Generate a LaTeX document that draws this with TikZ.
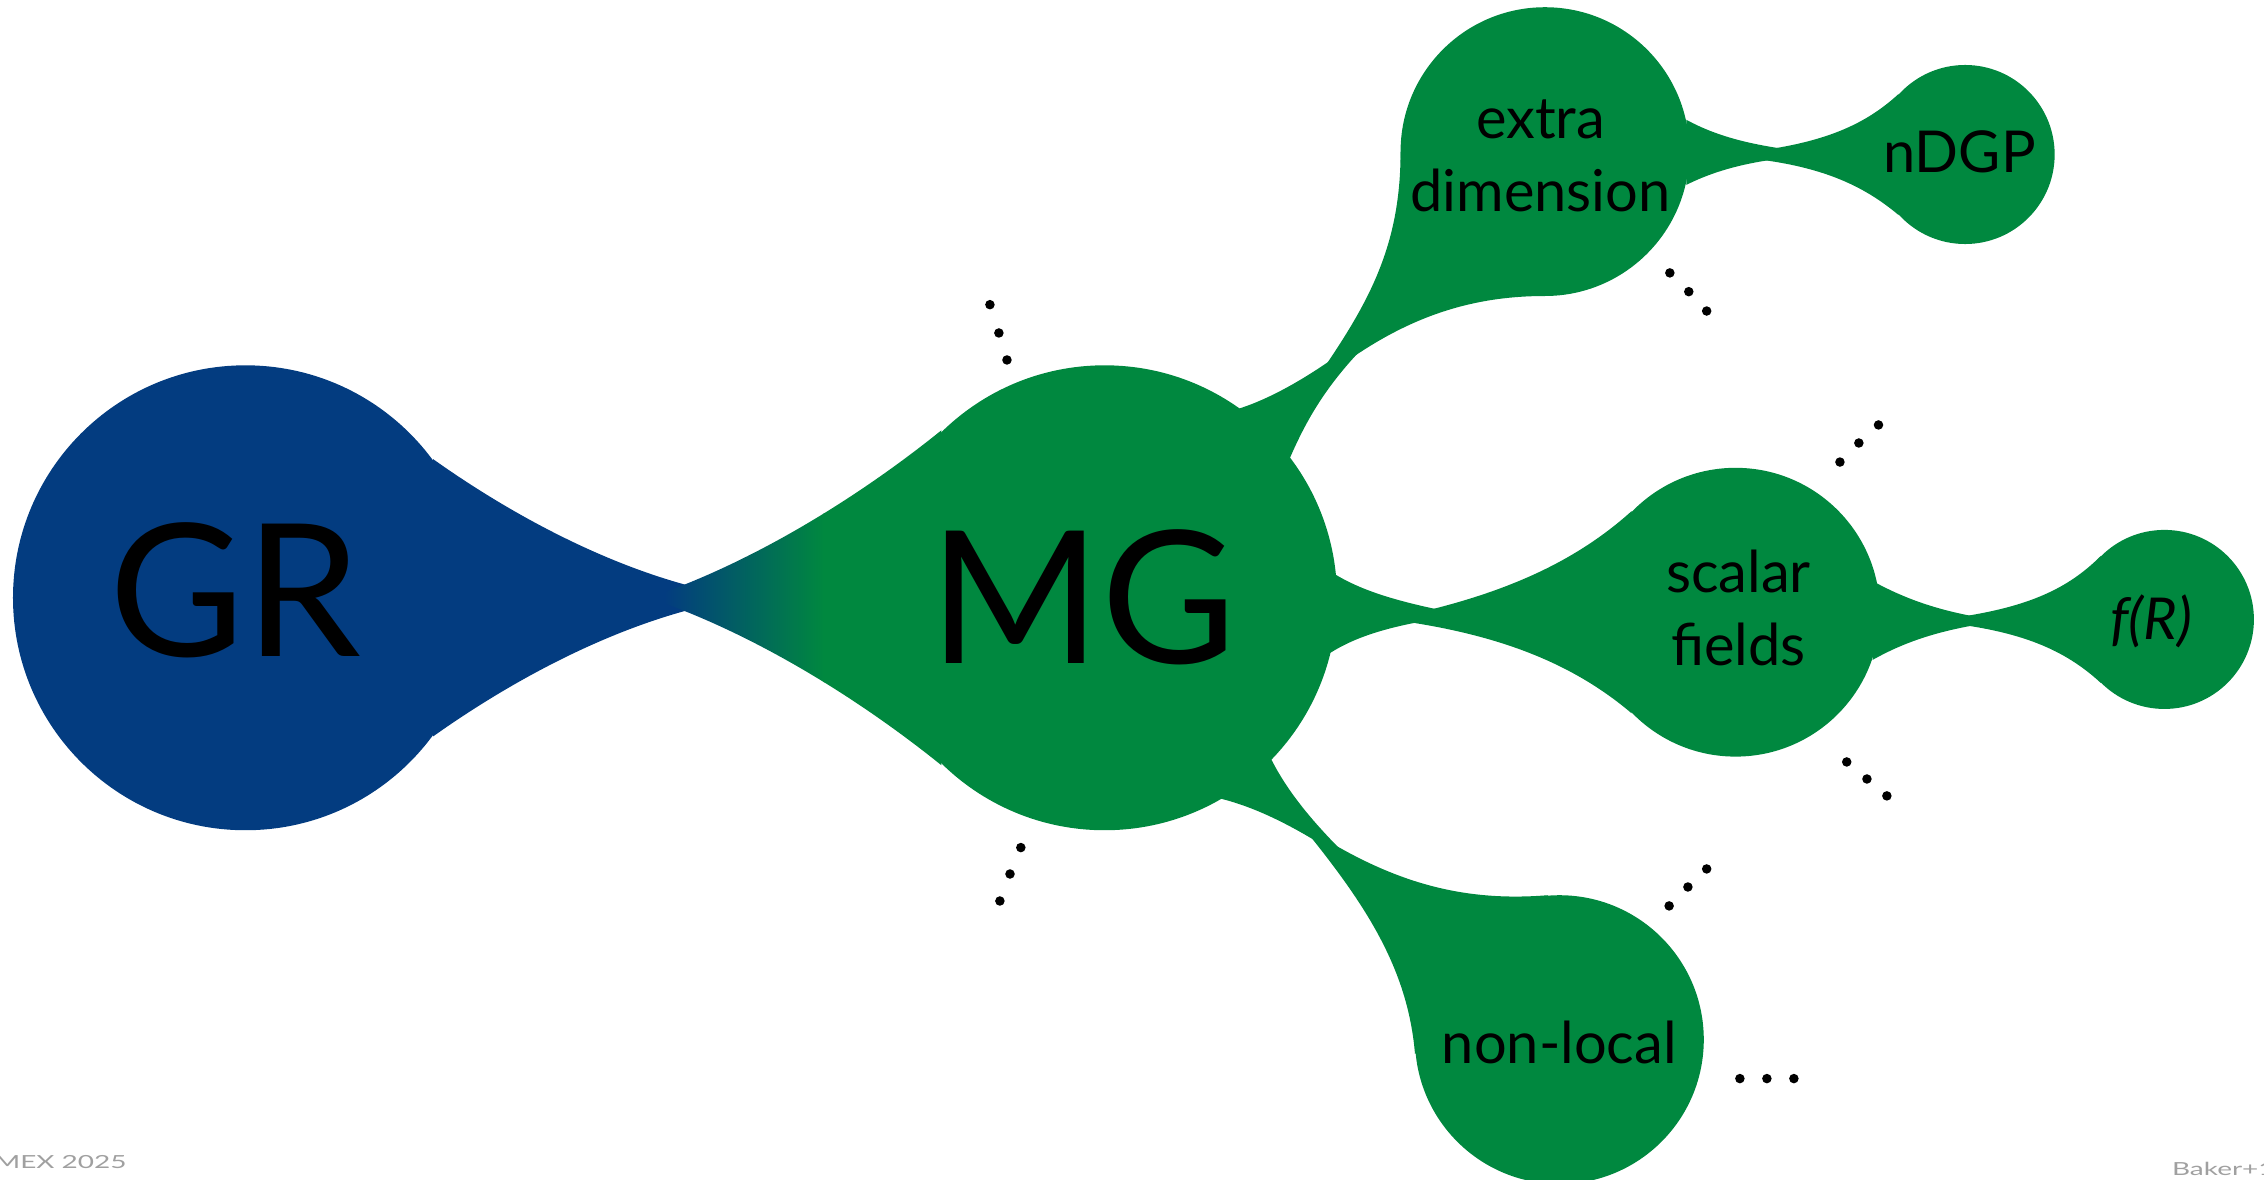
\documentclass[tikz,border=0pt]{standalone}
\usepackage{fontspec}
\setmainfont{Lato}
\definecolor{grblue}{RGB}{3,60,128}
\definecolor{mggreen}{RGB}{0,136,63}
\definecolor{footgray}{RGB}{160,160,160}
\tikzset{
  blobg/.style={fill=mggreen},
  blobb/.style={fill=grblue},
  bigtxt/.style={font=\fontsize{128}{128}\selectfont, inner sep=0pt},
  smalltxt/.style={font=\fontsize{40}{51}\selectfont, align=center, inner sep=0pt},
  dotty/.style={fill=black},
  foot/.style={font=\fontsize{12.5}{12.5}\selectfont, text=footgray, inner sep=0pt, xscale=1.55}
}
\begin{document}
\begin{tikzpicture}[x=1pt,y=-1pt]
\useasboundingbox (0,0) rectangle (1568,817);
\clip (0,0) rectangle (1568,817);

% GR blob
\fill[blobb] (170,414) circle[radius=161];
\fill[blobb] (300,318) .. controls (345,350) and (420,395) .. (500,411) -- (500,417) .. controls (420,433) and (345,478) .. (300,510) -- cycle;

% MG blob
\fill[blobg] (765,414) circle[radius=161];
\begin{scope}
  \clip (652,298) .. controls (600,340) and (530,385) .. (458,411) -- (458,417) .. controls (530,443) and (600,488) .. (652,530) -- cycle;
  \fill[blobb] (440,250) rectangle (461,580);
  \shade[left color=grblue,right color=mggreen] (460,250) rectangle (571,580);
  \fill[blobg] (570,250) rectangle (700,580);
\end{scope}
% MG tails
\fill[blobg] (858,283) .. controls (880,276) and (905,262) .. (935,240) -- (940,245) .. controls (915,272) and (903,295) .. (893,318) -- cycle;
\fill[blobg] (925,398) .. controls (945,410) and (970,417) .. (1005,424) -- (1005,427) .. controls (965,433) and (940,440) .. (920,453) -- cycle;
\fill[blobg] (880,525) .. controls (890,545) and (905,565) .. (930,590) -- (928,593) .. controls (890,568) and (865,558) .. (845,553) -- cycle;

% extra dimension blob
\fill[blobg] (1070,105) circle[radius=100];
\fill[blobg] (970,105) .. controls (970,175) and (945,215) .. (905,272) .. controls (960,225) and (1010,205) .. (1070,205) -- cycle;
\fill[blobg] (1168,83) .. controls (1190,95) and (1215,101) .. (1250,105) -- (1250,108) .. controls (1215,111) and (1190,117) .. (1168,128) -- cycle;

% nDGP blob
\fill[blobg] (1361,107) circle[radius=62];
\fill[blobg] (1315,65) .. controls (1290,88) and (1260,100) .. (1205,106) -- (1205,109) .. controls (1260,114) and (1290,128) .. (1315,149) -- cycle;

% scalar fields blob
\fill[blobg] (1202,424) circle[radius=100];
\fill[blobg] (1130,354) .. controls (1090,390) and (1040,412) .. (970,427) -- (970,430) .. controls (1040,440) and (1090,460) .. (1130,494) -- cycle;
\fill[blobg] (1298,403) .. controls (1320,415) and (1345,424) .. (1380,429) -- (1380,431) .. controls (1345,436) and (1320,444) .. (1297,457) -- cycle;

% f(R) blob
\fill[blobg] (1499,429) circle[radius=62];
\fill[blobg] (1455,385) .. controls (1430,410) and (1400,422) .. (1345,429) -- (1345,431) .. controls (1400,437) and (1430,450) .. (1455,473) -- cycle;

% non-local blob
\fill[blobg] (1080,720) circle[radius=100];
\fill[blobg] (1072,620) .. controls (1010,625) and (960,610) .. (900,570) .. controls (945,625) and (975,670) .. (980,730) -- cycle;

% labels
\node[bigtxt] (gr) at (163,409) {GR};
\node[bigtxt] (mg) at (750,414) {MG};
\node[smalltxt] (extra) at (1067,108) {extra\\dimension};
\node[smalltxt] (ndgp) at (1357,105) {nDGP};
\node[smalltxt] (scalar) at (1204,421) {scalar\\fields};
\node[smalltxt] (fr) at (1490,430) {\itshape f(R)};
\node[smalltxt] (nonlocal) at (1080,722) {non-local};

% dots
\foreach \p in {(685.6,211),(691.8,230.6),(697.4,249.3),
                (1156.5,189),(1169.6,202),(1182,215.4),
                (1274.3,320),(1287.4,306.8),(1301,294.3),
                (1279,527.7),(1293,539.5),(1306.8,551.2),
                (1156,627.4),(1169,614.3),(1182,601.8),
                (1205,747),(1223.7,747),(1242.4,747),
                (707,587),(699.5,605.3),(692.5,624)}
  \fill[dotty] \p circle[radius=3.3];

% footer
\node[foot, anchor=north east] (footl) at (88,800) {MEX 2025};
\node[foot, anchor=north west] (footr) at (1504,805) {Baker+1};
\end{tikzpicture}
\end{document}
